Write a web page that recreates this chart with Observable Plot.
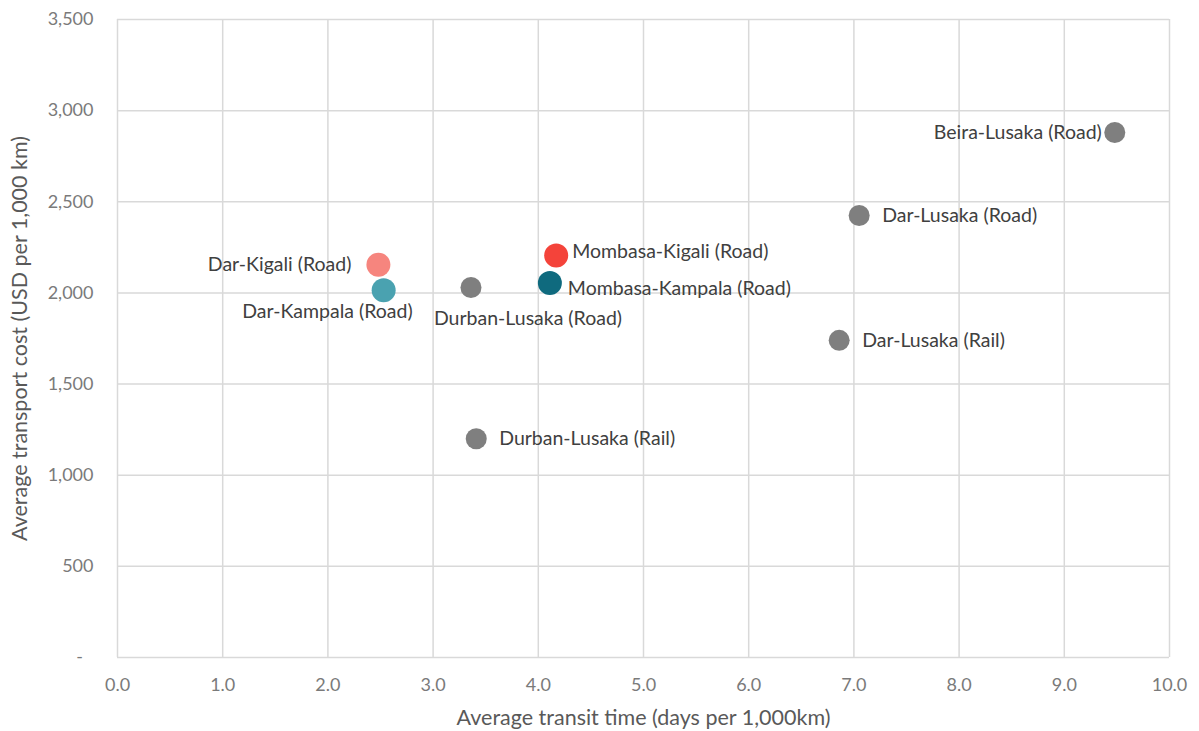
<!DOCTYPE html>
<html>
<head>
<meta charset="utf-8">
<script src="https://cdn.jsdelivr.net/npm/d3@7"></script>
<script src="https://cdn.jsdelivr.net/npm/@observablehq/plot@0.6"></script>
<style>
  html, body { margin: 0; padding: 0; background: #fff; }
  #chart svg { display: block; }
</style>
</head>
<body>
<div id="chart"></div>
<script>
// Corridor names, transit time (days per 1,000 km) and cost (USD per 1,000 km)
const routes = [
  "Beira-Lusaka (Road)",
  "Dar-Lusaka (Road)",
  "Dar-Lusaka (Rail)",
  "Durban-Lusaka (Rail)",
  "Durban-Lusaka (Road)",
  "Mombasa-Kigali (Road)",
  "Mombasa-Kampala (Road)",
  "Dar-Kigali (Road)",
  "Dar-Kampala (Road)"
];
const transitDays = [9.48, 7.05, 6.86, 3.41, 3.36, 4.17, 4.11, 2.48, 2.53];
const costUsd = [2880, 2425, 1740, 1200, 2030, 2205, 2055, 2155, 2015];
// Highlight groups used for point colour
const groups = [
  "Other", "Other", "Other", "Other", "Other",
  "Mombasa-Kigali", "Mombasa-Kampala", "Dar-Kigali", "Dar-Kampala"
];
const groupNames = ["Other", "Mombasa-Kigali", "Mombasa-Kampala", "Dar-Kigali", "Dar-Kampala"];
const xTicks = [0, 1, 2, 3, 4, 5, 6, 7, 8, 9, 10];
const yTicks = [0, 500, 1000, 1500, 2000, 2500, 3000, 3500];

const data = routes.map((r, i) => ({
  route: r, days: transitDays[i], cost: costUsd[i], group: groups[i]
}));

// Label placement relative to each point
const labelPlacement = {
  "Beira-Lusaka (Road)":    {anchor: "end",    dx: -13, dy: 0},
  "Dar-Lusaka (Road)":      {anchor: "start",  dx: 23,  dy: 0},
  "Dar-Lusaka (Rail)":      {anchor: "start",  dx: 23,  dy: 0},
  "Durban-Lusaka (Rail)":   {anchor: "start",  dx: 23,  dy: 0},
  "Durban-Lusaka (Road)":   {anchor: "middle", dx: 57,  dy: 31},
  "Mombasa-Kigali (Road)":  {anchor: "start",  dx: 16,  dy: -4},
  "Mombasa-Kampala (Road)": {anchor: "start",  dx: 18,  dy: 6},
  "Dar-Kigali (Road)":      {anchor: "end",    dx: -27, dy: 0},
  "Dar-Kampala (Road)":     {anchor: "end",    dx: 29,  dy: 22}
};

const font = "Lato, 'Open Sans', sans-serif";
const gridColor = "#d9d9d9";

const labelMarks = data.map(d => {
  const p = labelPlacement[d.route];
  return Plot.text([d], {
    x: "days", y: "cost", text: "route",
    textAnchor: p.anchor, dx: p.dx, dy: p.dy,
    fill: "#404040", fontSize: 19.5
  });
});

const chart = Plot.plot({
  width: 1199,
  height: 731,
  marginLeft: 117,
  marginRight: 30,
  marginTop: 19,
  marginBottom: 74,
  style: {fontFamily: font, background: "#fff"},
  x: {domain: [0, 10], label: null},
  y: {domain: [0, 3500], label: null},
  color: {
    domain: groupNames,
    range: ["#7f7f7f", "#f4433a", "#0f6a7e", "#f6857e", "#4aa2b0"]
  },
  marks: [
    Plot.gridX(xTicks, {stroke: gridColor, strokeOpacity: 1, strokeWidth: 1.5}),
    Plot.gridY(yTicks, {stroke: gridColor, strokeOpacity: 1, strokeWidth: 1.5}),
    Plot.axisX(xTicks, {
      tickSize: 0, tickPadding: 21, fontSize: 18, fill: "#7a7a7a",
      tickFormat: d3.format(".1f"), label: null
    }),
    Plot.axisY(yTicks, {
      tickSize: 0, tickPadding: 24, fontSize: 18, fill: "#7a7a7a",
      tickFormat: d => d === 0 ? "-\u2007" : d3.format(",")(d), label: null
    }),
    Plot.text(["Average transit time (days per 1,000km)"], {
      frameAnchor: "bottom", textAnchor: "middle", lineAnchor: "middle",
      dy: 61, fontSize: 21.5, fill: "#595959"
    }),
    Plot.text(["Average transport cost (USD per 1,000 km)"], {
      frameAnchor: "left", textAnchor: "middle", lineAnchor: "middle",
      rotate: -90, dx: -97, fontSize: 21.5, fill: "#595959"
    }),
    // Grey points for the other corridors, larger coloured points for highlighted ones
    Plot.dot(data, {
      filter: d => d.group === "Other",
      x: "days", y: "cost", r: 10.5, fill: "group", stroke: null
    }),
    Plot.dot(data, {
      filter: d => d.group !== "Other",
      x: "days", y: "cost", r: 12, fill: "group", stroke: null
    }),
    ...labelMarks
  ]
});

document.getElementById("chart").appendChild(chart);
</script>
</body>
</html>
